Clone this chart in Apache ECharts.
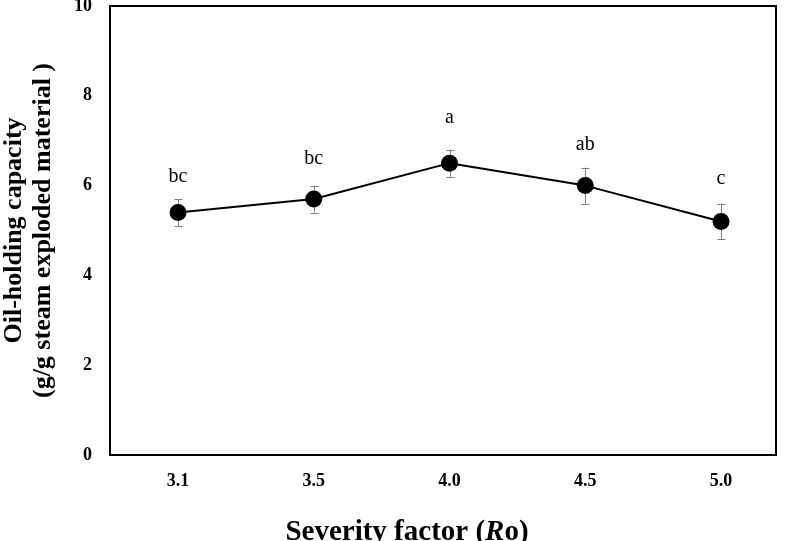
<!DOCTYPE html>
<html>
<head>
<meta charset="utf-8">
<script src="https://cdn.jsdelivr.net/npm/echarts@6/dist/echarts.min.js"></script>
<style>html,body{margin:0;padding:0;background:#fff}#c{width:791px;height:541px}</style>
</head>
<body>
<div id="c"></div>
<script>
// Data
var categories = ['3.1', '3.5', '4.0', '4.5', '5.0'];
var values = [5.4, 5.7, 6.5, 6.0, 5.2];
var errors = [0.3, 0.3, 0.3, 0.4, 0.4];
var letters = ['bc', 'bc', 'a', 'ab', 'c'];
var yTicks = [0, 2, 4, 6, 8, 10];

var letterDistance = [17, 22, 27, 22, 24];
var serif = "'Liberation Serif', 'Times New Roman', serif";

var chart = echarts.init(document.getElementById('c'));

var lineData = values.map(function (v, i) {
  return {
    value: [i, v],
    label: { formatter: letters[i], distance: letterDistance[i] }
  };
});
var errData = values.map(function (v, i) { return [i, v - errors[i], v + errors[i]]; });

chart.setOption({
  animation: false,
  backgroundColor: '#fff',
  grid: {
    left: 110, right: 15, top: 6, bottom: 86,
    containLabel: false,
    outerBoundsMode: 'none',
    show: true, borderColor: '#000', borderWidth: 2, backgroundColor: 'transparent'
  },
  xAxis: {
    type: 'value',
    min: -0.501,
    max: 4.405,
    splitLine: { show: false },
    axisLine: { show: false },
    axisTick: { show: false },
    axisLabel: {
      margin: 17,
      fontFamily: serif, fontWeight: 'bold', fontSize: 18, color: '#000',
      showMinLabel: false, showMaxLabel: false,
      formatter: function (v) {
        var r = Math.round(v);
        return (Math.abs(v - r) < 1e-6 && categories[r] !== undefined) ? categories[r] : '';
      }
    },
    name: '{n|Severity factor (}{i|R}{n|o)}',
    nameLocation: 'middle',
    nameGap: 63,
    nameTextStyle: {
      padding: [0, 72, 0, 0],
      rich: {
        n: { fontFamily: serif, fontWeight: 'bold', fontSize: 29, color: '#000', lineHeight: 29 },
        i: { fontFamily: serif, fontWeight: 'bold', fontStyle: 'italic', fontSize: 29, color: '#000', lineHeight: 29 }
      }
    }
  },
  yAxis: {
    type: 'value',
    min: yTicks[0],
    max: yTicks[yTicks.length - 1],
    interval: 2,
    splitLine: { show: false },
    axisLine: { show: false },
    axisTick: { show: false },
    axisLabel: {
      margin: 18,
      fontFamily: serif, fontWeight: 'bold', fontSize: 18, color: '#000'
    },
    name: 'Oil-holding capacity\n(g/g steam exploded material )',
    nameLocation: 'middle',
    nameGap: 52,
    nameTextStyle: {
      fontFamily: serif, fontWeight: 'bold', fontSize: 26, color: '#000', lineHeight: 29, align: 'center'
    }
  },
  series: [
    {
      type: 'custom',
      z: 1,
      data: errData,
      renderItem: function (params, api) {
        var x = api.coord([api.value(0), api.value(1)]);
        var top = api.coord([api.value(0), api.value(2)]);
        var cx = Math.round(x[0]) + 0.5;
        var w = 4;
        var st = { stroke: '#7f7f7f', lineWidth: 1 };
        return {
          type: 'group',
          children: [
            { type: 'line', shape: { x1: cx, y1: x[1], x2: cx, y2: top[1] }, style: st },
            { type: 'line', shape: { x1: cx - w, y1: Math.round(x[1]) + 0.5, x2: cx + w, y2: Math.round(x[1]) + 0.5 }, style: st },
            { type: 'line', shape: { x1: cx - w, y1: Math.round(top[1]) + 0.5, x2: cx + w, y2: Math.round(top[1]) + 0.5 }, style: st }
          ]
        };
      }
    },
    {
      type: 'line',
      z: 3,
      data: lineData,
      symbol: 'circle',
      symbolSize: 17,
      itemStyle: { color: '#000' },
      lineStyle: { color: '#000', width: 2 },
      label: {
        show: true,
        position: 'top',
        fontFamily: serif, fontSize: 20, color: '#000', lineHeight: 20
      }
    }
  ]
});
</script>
</body>
</html>
